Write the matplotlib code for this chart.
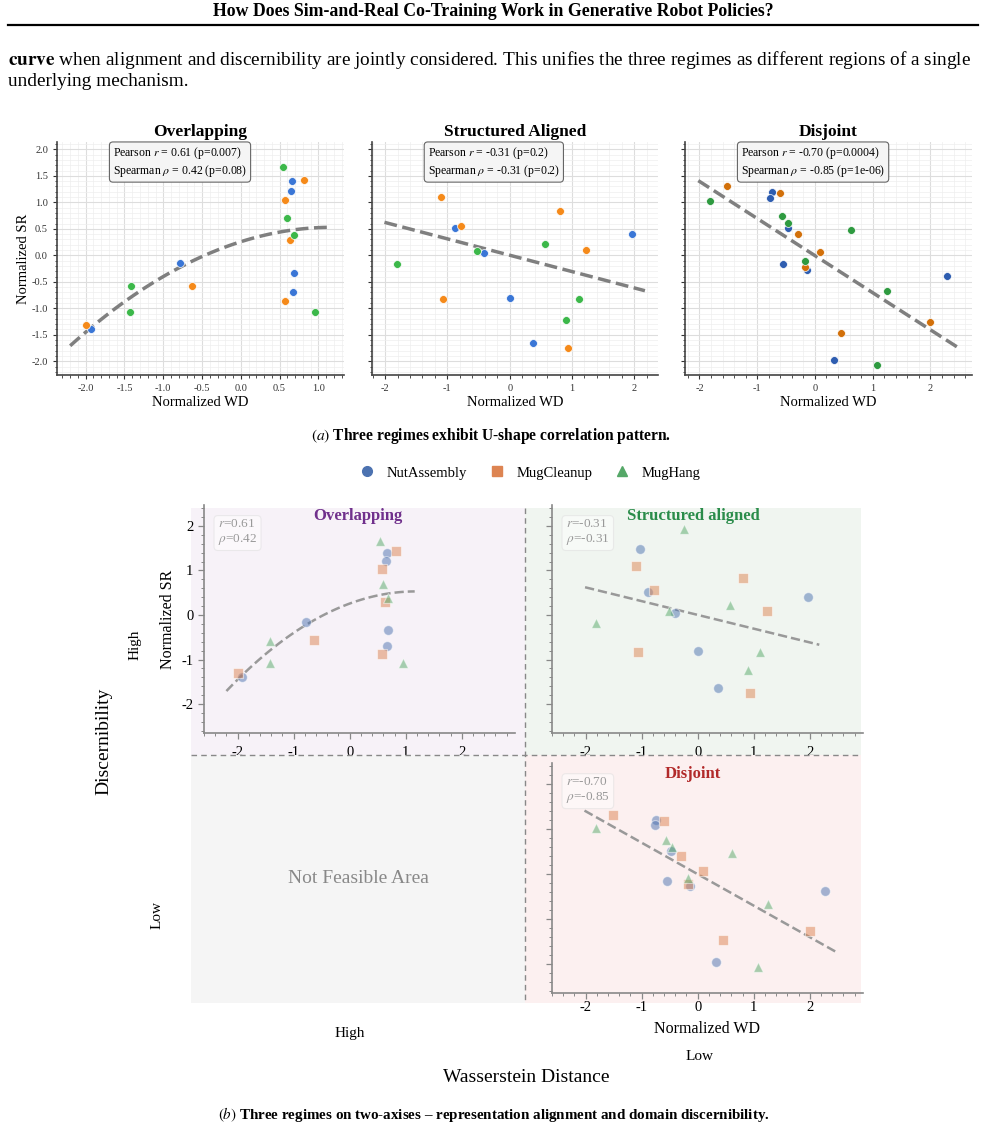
import numpy as np
import matplotlib
matplotlib.use('Agg')
import matplotlib.pyplot as plt
from matplotlib.lines import Line2D
from matplotlib.ticker import MultipleLocator, AutoMinorLocator, FormatStrFormatter
from matplotlib.transforms import blended_transform_factory

plt.rcParams['font.family'] = ['Liberation Serif', 'DejaVu Serif']
plt.rcParams['mathtext.fontset'] = 'stix'
plt.rcParams['axes.unicode_minus'] = False

W, H = 985, 1131

tasks = ['NutAssembly', 'MugCleanup', 'MugHang']
markers = ['o', 's', '^']
deep = ['#4c72b0', '#dd8452', '#55a868']

# --- Overlapping regime (normalized WD, normalized SR)
ov_nut_wd = [0.66, 0.65, -0.78, 0.68, 0.67, -1.93]
ov_nut_sr = [1.40, 1.21, -0.15, -0.34, -0.70, -1.40]
ov_mug_wd = [0.82, 0.57, 0.63, -0.63, 0.57, -2.00]
ov_mug_sr = [1.43, 1.04, 0.29, -0.57, -0.87, -1.31]
ov_hang_wd = [0.54, 0.60, 0.69, -1.42, -1.43, 0.96]
ov_hang_sr = [1.66, 0.70, 0.38, -0.58, -1.07, -1.07]

# --- Structured aligned regime
sa_nut_wd = [-1.03, -0.88, -0.41, 0.00, 0.37, 1.97]
sa_nut_sr = [1.48, 0.52, 0.04, -0.80, -1.65, 0.40]
sa_mug_wd = [-1.10, -0.78, 0.81, 1.23, -1.07, 0.94]
sa_mug_sr = [1.11, 0.56, 0.83, 0.10, -0.83, -1.75]
sa_hang_wd = [-1.81, -0.52, 0.57, 1.12, 0.90, -0.25]
sa_hang_sr = [-0.17, 0.09, 0.22, -0.83, -1.23, 1.93]

# --- Disjoint regime
dj_nut_wd = [-0.74, -0.77, -0.47, -0.55, -0.14, 2.28, 0.33]
dj_nut_sr = [1.20, 1.09, 0.51, -0.16, -0.27, -0.39, -1.97]
dj_mug_wd = [-1.52, -0.61, -0.29, 0.09, -0.18, 2.00, 0.46]
dj_mug_sr = [1.31, 1.17, 0.41, 0.06, -0.22, -1.26, -1.47]
dj_hang_wd = [-1.82, -0.57, -0.46, 0.62, -0.17, 1.25, 1.08]
dj_hang_sr = [1.03, 0.75, 0.61, 0.47, -0.10, -0.67, -2.08]

titles_top = ['Overlapping', 'Structured Aligned', 'Disjoint']
titles_bot = ['Overlapping', 'Structured aligned', 'Disjoint']
pearson_r = ['0.61', '-0.31', '-0.70']
pearson_p = ['0.007', '0.2', '0.0004']
spearman_rho = ['0.42', '-0.31', '-0.85']
spearman_p = ['0.08', '0.2', '1e-06']

# quadratic trend of the overlapping regime
ov_fit_coef = [-0.196, 0.462, 0.257]

regimes = [
    [(ov_nut_wd, ov_nut_sr), (ov_mug_wd, ov_mug_sr), (ov_hang_wd, ov_hang_sr)],
    [(sa_nut_wd, sa_nut_sr), (sa_mug_wd, sa_mug_sr), (sa_hang_wd, sa_hang_sr)],
    [(dj_nut_wd, dj_nut_sr), (dj_mug_wd, dj_mug_sr), (dj_hang_wd, dj_hang_sr)],
]

top_colors = [
    ['#3a76d6', '#f58a1a', '#3cb84a'],
    ['#3a76d6', '#f58a1a', '#3cb84a'],
    ['#2e5db0', '#d2700a', '#2e9a40'],
]


def px(x0, y0, x1, y1):
    return [x0 / W, 1 - y1 / H, (x1 - x0) / W, (y1 - y0) / H]


def fit_line(i):
    pts = regimes[i]
    x = np.concatenate([np.asarray(p[0]) for p in pts])
    y = np.concatenate([np.asarray(p[1]) for p in pts])
    coef = ov_fit_coef if i == 0 else np.polyfit(x, y, 1)
    xs = np.linspace(x.min() - 0.2, x.max() + 0.2, 100)
    return xs, np.polyval(coef, xs)


fig = plt.figure(figsize=(W / 100, H / 100), dpi=100)

# ---- page header and paragraph
fig.text(493 / W, 1 - 12 / H,
         'How Does Sim-and-Real Co-Training Work in Generative Robot Policies?',
         ha='center', va='center', fontsize=12.8, weight='bold')
fig.add_artist(Line2D([8 / W, 978 / W], [1 - 25 / H] * 2, color='black', lw=1.6))
fig.text(8 / W, 1 - 60 / H,
         r'$\mathbf{curve}$ when alignment and discernibility are jointly considered. '
         'This unifies the three regimes as different regions of a single',
         ha='left', va='center', fontsize=13.9)
fig.text(8 / W, 1 - 82 / H, 'underlying mechanism.', ha='left', va='center', fontsize=13.9)

# ---- (a) three scatter panels
top_boxes = [(57, 142, 344, 375), (372, 142, 658, 375), (685, 142, 972, 375)]
top_xlims = [(-2.37, 1.33), (-2.21, 2.38), (-2.25, 2.72)]
top_xstep = [0.5, 1, 1]

for i in range(3):
    ax = fig.add_axes(px(*top_boxes[i]))
    for j in range(3):
        wd, sr = regimes[i][j]
        ax.scatter(wd, sr, s=32, color=top_colors[i][j], edgecolor='white',
                   linewidth=0.5, zorder=3)
    xs, ys = fit_line(i)
    ax.plot(xs, ys, ls='--', color='#7f7f7f', lw=2.5, zorder=2)
    ax.set_xlim(*top_xlims[i])
    ax.set_ylim(-2.26, 2.14)
    ax.xaxis.set_major_locator(MultipleLocator(top_xstep[i]))
    ax.yaxis.set_major_locator(MultipleLocator(0.5))
    ax.xaxis.set_minor_locator(AutoMinorLocator(5))
    ax.yaxis.set_minor_locator(AutoMinorLocator(5))
    if i == 0:
        ax.xaxis.set_major_formatter(FormatStrFormatter('%.1f'))
        ax.yaxis.set_major_formatter(FormatStrFormatter('%.1f'))
        ax.set_ylabel('Normalized SR', fontsize=10.5, labelpad=1)
    else:
        ax.tick_params(axis='y', labelleft=False)
    ax.grid(which='major', color='#dddddd', lw=0.8)
    ax.grid(which='minor', color='#eeeeee', lw=0.5)
    ax.set_axisbelow(True)
    for s in ['top', 'right']:
        ax.spines[s].set_visible(False)
    for s in ['left', 'bottom']:
        ax.spines[s].set_color('#444444')
        ax.spines[s].set_linewidth(1.2)
    ax.tick_params(which='major', length=3, width=0.8, labelsize=7.5, colors='#333333')
    ax.tick_params(which='minor', length=1.8, width=0.6, colors='#333333')
    ax.set_xlabel('Normalized WD', fontsize=10.5, labelpad=2)
    ax.set_title(titles_top[i], fontsize=12.5, weight='bold', pad=4)
    ax.text(0.195, 0.985,
            'Pearson $r$ = %s (p=%s)\nSpearman $\\rho$ = %s (p=%s)'
            % (pearson_r[i], pearson_p[i], spearman_rho[i], spearman_p[i]),
            transform=ax.transAxes, ha='left', va='top', fontsize=8.5, zorder=10,
            linespacing=1.1,
            bbox=dict(boxstyle='round,pad=0.3', facecolor='#f5f5f5',
                      edgecolor='#666666', lw=0.8))

fig.text(491 / W, 1 - 436 / H,
         r'$\mathit{(a)}$ Three regimes exhibit U-shape correlation pattern.',
         ha='center', va='center', fontsize=11.2, weight='bold')

handles = [Line2D([], [], marker=markers[k], ls='none', color=deep[k], markersize=7)
           for k in range(3)]
fig.legend(handles, tasks, loc='center', bbox_to_anchor=(530 / W, 1 - 473 / H),
           ncol=3, frameon=False, fontsize=10.5, handlelength=1.0,
           handletextpad=0.85, columnspacing=1.55)

# ---- (b) quadrant map
qx = [191, 525, 861]
qy = [508, 754.5, 1003]
quad_colors = ['#f7f2f8', '#f0f5f0', '#f5f5f5', '#fcf0f0']
quads = []
for r in range(2):
    for c in range(2):
        q = fig.add_axes(px(qx[c], qy[r], qx[c + 1], qy[r + 1]))
        q.set_facecolor(quad_colors[2 * r + c])
        q.set_xticks([])
        q.set_yticks([])
        for s in q.spines.values():
            s.set_visible(False)
        quads.append(q)

inner_boxes = [(204, 505, 515, 733), (552, 505, 863, 733), (552, 763, 863, 993)]
inner_quads = [0, 1, 3]
inner_xpad = [5.5, 5.5, 2]
title_colors = ['#70308c', '#2a8c4a', '#b22a2a']

for i in range(3):
    q = quads[inner_quads[i]]
    ax = q.inset_axes(px(*inner_boxes[i]), transform=fig.transFigure)
    ax.set_facecolor('none')
    for j in range(3):
        wd, sr = regimes[i][j]
        ax.scatter(wd, sr, s=50, marker=markers[j], color=deep[j], alpha=0.5,
                   edgecolor='white', linewidth=0.8, zorder=3)
    xs, ys = fit_line(i)
    ax.plot(xs, ys, ls='--', color='#999999', lw=1.8, zorder=2)
    ax.set_xlim(-2.6, 2.95)
    ax.set_ylim(-2.65, 2.47)
    ax.xaxis.set_major_locator(MultipleLocator(1))
    ax.yaxis.set_major_locator(MultipleLocator(1))
    ax.xaxis.set_minor_locator(AutoMinorLocator(5))
    ax.yaxis.set_minor_locator(AutoMinorLocator(5))
    for s in ['top', 'right']:
        ax.spines[s].set_visible(False)
    for s in ['left', 'bottom']:
        ax.spines[s].set_color('#888888')
        ax.spines[s].set_linewidth(1.2)
    ax.tick_params(which='major', length=4, width=0.9, color='#888888', labelsize=10.5)
    ax.tick_params(which='minor', length=2.2, width=0.7, color='#888888')
    ax.tick_params(axis='x', which='major', pad=inner_xpad[i])
    if i == 0:
        ax.set_ylabel('Normalized SR', fontsize=11.5)
    else:
        ax.tick_params(axis='y', labelleft=False)
    if i == 2:
        ax.set_xlabel('Normalized WD', fontsize=11.5, labelpad=5)
    tr = blended_transform_factory(q.transAxes, ax.transAxes)
    ax.text(0.5, 0.95, titles_bot[i], transform=tr, ha='center', va='center',
            fontsize=12, weight='bold', color=title_colors[i])
    ax.text(0.045, 0.945, '$r$=%s\n$\\rho$=%s' % (pearson_r[i], spearman_rho[i]),
            transform=ax.transAxes, ha='left', va='top', fontsize=9.5,
            color='#999999', linespacing=1.2,
            bbox=dict(boxstyle='round,pad=0.3', facecolor='white', alpha=0.5,
                      edgecolor='#dddddd', lw=0.8))

quads[2].text(0.5, 0.5, 'Not Feasible Area', transform=quads[2].transAxes,
              ha='center', va='center', fontsize=14, color='#888888')

fig.add_artist(Line2D([qx[1] / W] * 2, [1 - qy[0] / H, 1 - qy[2] / H],
                      color='#888888', lw=1, dashes=(4, 3)))
fig.add_artist(Line2D([qx[0] / W, qx[2] / W], [1 - qy[1] / H] * 2,
                      color='#888888', lw=1, dashes=(4, 3)))

fig.text(104 / W, 1 - 741 / H, 'Discernibility', rotation=90, ha='center',
         va='center', fontsize=14)
fig.text(135 / W, 1 - 645 / H, 'High', rotation=90, ha='center', va='center', fontsize=11)
fig.text(157 / W, 1 - 915 / H, 'Low', rotation=90, ha='center', va='center', fontsize=11)
fig.text(350 / W, 1 - 1033 / H, 'High', ha='center', va='center', fontsize=11)
fig.text(700 / W, 1 - 1057 / H, 'Low', ha='center', va='center', fontsize=11)
fig.text(526 / W, 1 - 1077 / H, 'Wasserstein Distance', ha='center', va='center',
         fontsize=14)
fig.text(494 / W, 1 - 1114 / H,
         r'$\mathit{(b)}$ Three regimes on two-axises – representation alignment '
         'and domain discernibility.',
         ha='center', va='center', fontsize=10.8, weight='bold')

fig.savefig('out.png', dpi=100)
